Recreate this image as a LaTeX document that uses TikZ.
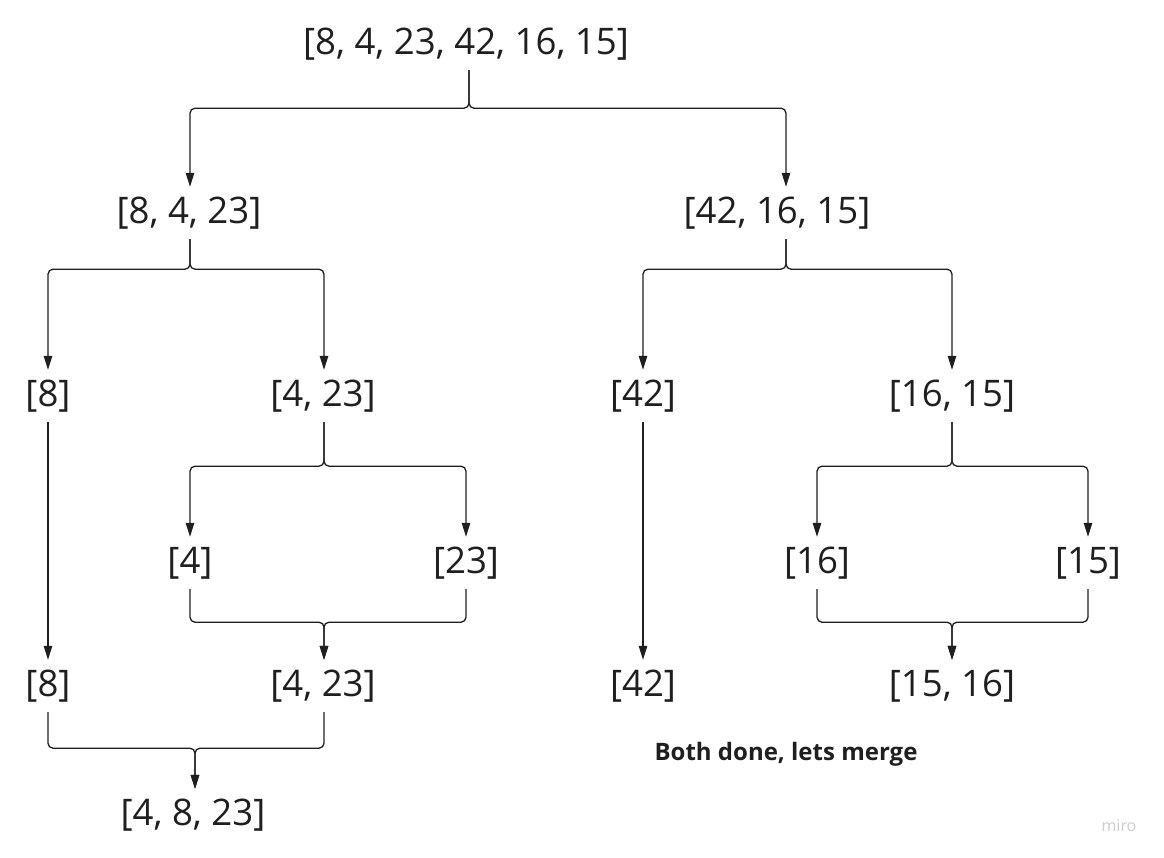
\documentclass[tikz,border=0pt]{standalone}
\usepackage{fontspec}
\setmainfont{Open Sans}
\usetikzlibrary{arrows.meta}
\begin{document}
\begin{tikzpicture}[x=1pt,y=-1pt,
  lbl/.style={font=\fontsize{36.6}{40}\selectfont, text=black!88, inner sep=0pt, minimum height=52pt},
  edge/.style={draw=black!88, line width=1.3pt, rounded corners=5pt,
               -{Triangle[length=14pt,width=8.5pt]}},
]
\useasboundingbox[fill=white] (0,0) rectangle (1164,858);

% split levels
\node[lbl] (root) at (466,44)  {[8, 4, 23, 42, 16, 15]};
\node[lbl] (a)    at (189,213) {[8, 4, 23]};
\node[lbl] (b)    at (777,213) {[42, 16, 15]};
\node[lbl] (a1)   at (48,396)  {[8]};
\node[lbl] (a2)   at (323,396) {[4, 23]};
\node[lbl] (b1)   at (643,396) {[42]};
\node[lbl] (b2)   at (952,396) {[16, 15]};
\node[lbl] (a21)  at (190,563) {[4]};
\node[lbl] (a22)  at (466,563) {[23]};
\node[lbl] (b21)  at (817,563) {[16]};
\node[lbl] (b22)  at (1088,563) {[15]};
% merge levels
\node[lbl] (c1)   at (48,686)  {[8]};
\node[lbl] (c2)   at (323,686) {[4, 23]};
\node[lbl] (d1)   at (643,686) {[42]};
\node[lbl] (d2)   at (952,686) {[15, 16]};
\node[lbl] (e)    at (193,815) {[4, 8, 23]};

\node[font=\fontsize{24}{28}\selectfont\bfseries, text=black!88] (note) at (786,754) {Both done, lets merge};
\node[font=\fontsize{16}{18}\selectfont, text=gray!40] (wm) at (1119,826) {miro};

% splitting
\draw[edge] ([xshift=3pt]root.south) -- ++(0,38) -| ([xshift=1pt]a.north);
\draw[edge] ([xshift=3pt]root.south) -- ++(0,38) -| ([xshift=9pt]b.north);
\draw[edge] ([xshift=1pt]a.south) -- ++(0,30) -| (a1.north);
\draw[edge] ([xshift=1pt]a.south) -- ++(0,30) -| ([xshift=1pt]a2.north);
\draw[edge] ([xshift=9pt]b.south) -- ++(0,30) -| (b1.north);
\draw[edge] ([xshift=9pt]b.south) -- ++(0,30) -| (b2.north);
\draw[edge] ([xshift=1pt]a2.south) -- ++(0,44) -| (a21.north);
\draw[edge] ([xshift=1pt]a2.south) -- ++(0,44) -| (a22.north);
\draw[edge] (b2.south) -- ++(0,44) -| (b21.north);
\draw[edge] (b2.south) -- ++(0,44) -| (b22.north);
\draw[edge] (a1.south) -- (c1.north);
\draw[edge] (b1.south) -- (d1.north);

% merging
\draw[edge] (a21.south) -- ++(0,33) -| ([xshift=1pt]c2.north);
\draw[edge] (a22.south) -- ++(0,33) -| ([xshift=1pt]c2.north);
\draw[edge] (b21.south) -- ++(0,33) -| (d2.north);
\draw[edge] (b22.south) -- ++(0,33) -| (d2.north);
\draw[edge] (c1.south) -- ++(0,36) -| ([xshift=2pt]e.north);
\draw[edge] ([xshift=1pt]c2.south) -- ++(0,36) -| ([xshift=2pt]e.north);
\end{tikzpicture}
\end{document}
